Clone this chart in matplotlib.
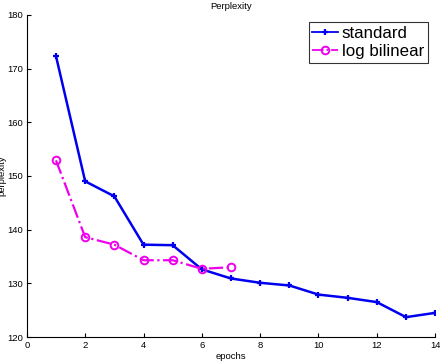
import matplotlib
matplotlib.use("Agg")
import matplotlib.pyplot as plt

epochs_std = [1, 2, 3, 4, 5, 6, 7, 8, 9, 10, 11, 12, 13, 14]
ppl_std = [172.3, 149.0, 146.2, 137.2, 137.1, 132.6, 130.9, 130.1, 129.6, 127.9, 127.3, 126.5, 123.7, 124.5]
epochs_lb = [1, 2, 3, 4, 5, 6, 7]
ppl_lb = [152.9, 138.6, 137.2, 134.3, 134.3, 132.7, 133.0]
xticks = [0, 2, 4, 6, 8, 10, 12, 14]
yticks = [120, 130, 140, 150, 160, 170, 180]

plt.rcParams['font.family'] = ['Liberation Sans', 'DejaVu Sans']
fig = plt.figure(figsize=(4.4, 3.62), dpi=100)
ax = fig.add_axes([0.061, 0.069, 0.928, 0.89])
ax.plot(epochs_std, ppl_std, color='#0000ee', lw=1.8, marker='+', ms=5, mew=1.6, label='standard')
ax.plot(epochs_lb, ppl_lb, color='#ee00ee', lw=1.6, ls='-.', marker='o', ms=5.5, mfc='none', mew=1.4, label='log bilinear')
ax.set_xlim(0, 14)
ax.set_ylim(120, 180)
ax.set_xticks(xticks)
ax.set_yticks(yticks)
ax.tick_params(direction='in', labelsize=6.8, length=3, pad=3)
for s in ['top', 'right']:
    ax.spines[s].set_visible(False)
ax.set_title('Perplexity', fontsize=6.8, pad=4)
ax.set_xlabel('epochs', fontsize=6.8, labelpad=1)
ax.set_ylabel('perplexity', fontsize=6.8, labelpad=0)
leg = ax.legend(loc='upper right', fontsize=12.2, frameon=True, fancybox=False,
                edgecolor='black', handlelength=1.5, handletextpad=0.25,
                borderpad=0.2, labelspacing=0.2, borderaxespad=0.45)
leg.get_frame().set_linewidth(0.8)
for l in leg.get_lines():
    l.set_linewidth(1.3)
fig.savefig('out.png', dpi=100)
